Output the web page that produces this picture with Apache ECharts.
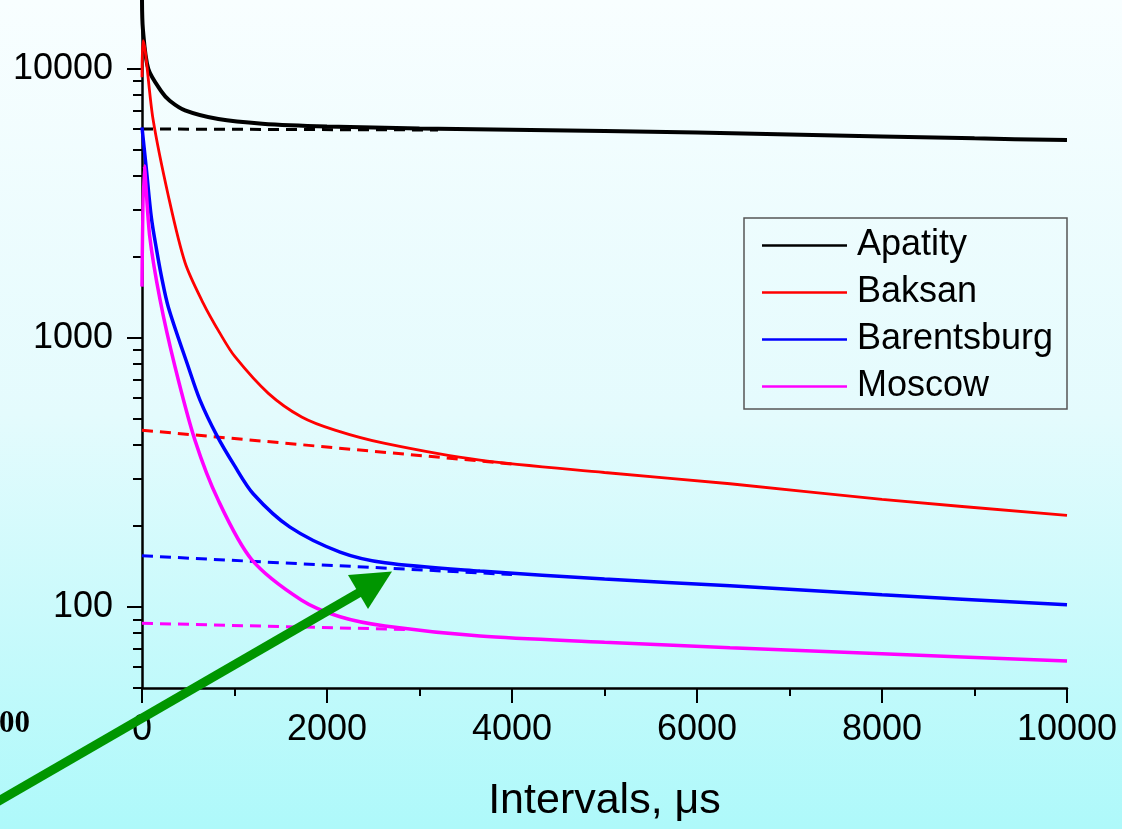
<!DOCTYPE html>
<html>
<head>
<meta charset="utf-8">
<title>Intervals</title>
<script src="https://cdn.jsdelivr.net/npm/echarts@6.0.0/dist/echarts.min.js"></script>
<style>
  html, body { margin: 0; padding: 0; }
  #chart { width: 1122px; height: 829px; }
</style>
</head>
<body>
<div id="chart"></div>
<script>
// values: [interval (us), count]
const apatity = [[0, 18000], [10, 14000], [68, 10000], [213, 8200], [300, 7600], [465, 7000], [825, 6500],
  [1300, 6250], [2000, 6100], [3000, 6000], [5000, 5870], [7000, 5700], [9000, 5510], [10000, 5430]]
const baksan = [[0, 9300], [12, 12700], [119, 6500], [285, 3367], [465, 1905], [660, 1350], [850, 1030],
  [1005, 851], [1366, 622], [1726, 508], [2086, 454], [2627, 405], [3654, 351], [5000, 316],
  [6357, 287], [8000, 251], [10000, 219]]
const barentsburg = [[0, 6050], [47, 4240], [101, 2800], [155, 2150], [209, 1700], [285, 1300], [500, 781],
  [627, 587], [807, 435], [1000, 335], [1204, 263], [1600, 198], [2141, 160], [2627, 146],
  [3654, 136], [5000, 127], [6357, 120], [8000, 111], [10000, 102]]
const moscow = [[0, 1550], [25, 4350], [83, 2390], [195, 1387], [357, 781], [573, 416], [825, 249],
  [1186, 150], [1726, 106], [2141, 92], [2627, 85], [3654, 78], [5000, 74], [6357, 70.5],
  [8000, 67], [10000, 63]]

// dashed fits of the tails
const apatityFit = [[0, 5970], [3200, 5920]]
const baksanFit = [[0, 454], [4000, 340]]
const barentsburgFit = [[0, 155], [4000, 132]]
const moscowFit = [[0, 87], [2850, 82.5]]

const seriesNames = ['Apatity', 'Baksan', 'Barentsburg', 'Moscow']
const majorTicks = [100, 1000, 10000]
const minorTicks = [50, 60, 70, 80, 90, 200, 300, 400, 500, 600, 700, 800, 900,
  2000, 3000, 4000, 5000, 6000, 7000, 8000, 9000]

const colors = ['#000000', '#ff0000', '#0000ff', '#ff00ff']
const curves = [apatity, baksan, barentsburg, moscow]
const fits = [apatityFit, baksanFit, barentsburgFit, moscowFit]
const widths = [4, 2.8, 3.5, 3.5]

const series = []
curves.forEach((data, i) => {
  series.push({
    name: seriesNames[i],
    type: 'line',
    data,
    showSymbol: false,
    symbol: 'none',
    smooth: 0.3,
    lineStyle: { color: colors[i], width: widths[i] },
    itemStyle: { color: colors[i] },
    z: 3
  })
})
fits.forEach((data, i) => {
  series.push({
    name: seriesNames[i] + ' fit',
    type: 'line',
    data,
    showSymbol: false,
    symbol: 'none',
    lineStyle: { color: colors[i], width: 3, type: [11, 7] },
    z: 2
  })
})

const labelFont = { fontFamily: 'Liberation Sans, Arial, sans-serif', fontSize: 36, color: '#000' }

const option = {
  animation: false,
  backgroundColor: new echarts.graphic.LinearGradient(0, 0, 0, 1, [
    { offset: 0, color: '#f8feff' },
    { offset: 0.5, color: '#e4fbfd' },
    { offset: 1, color: '#aef9fa' }
  ]),
  grid: { left: 142, right: 55, top: 0, bottom: 141 },
  legend: {
    data: seriesNames,
    orient: 'vertical',
    left: 762,
    top: 222,
    padding: 0,
    itemGap: 0,
    itemWidth: 85,
    itemHeight: 2.5,
    icon: 'rect',
    textStyle: { ...labelFont, lineHeight: 47, padding: [0, 0, 0, 5] }
  },
  xAxis: {
    type: 'value',
    min: 0,
    max: 10000,
    interval: 2000,
    name: 'Intervals, μs',
    nameLocation: 'middle',
    nameGap: 92,
    nameTextStyle: { fontFamily: 'Liberation Sans, Arial, sans-serif', fontSize: 43, color: '#000' },
    axisLine: { lineStyle: { color: '#000', width: 2.5 } },
    axisTick: { length: 15, lineStyle: { color: '#000', width: 2 } },
    minorTick: { show: true, splitNumber: 2, length: 8, lineStyle: { color: '#000', width: 2 } },
    axisLabel: { ...labelFont, margin: 24, formatter: (v) => String(v) },
    splitLine: { show: false }
  },
  yAxis: [
    {
      type: 'log',
      logBase: 10,
      min: 50,
      max: 18000,
      position: 'left',
      axisLine: { show: true, lineStyle: { color: '#000', width: 2.5 } },
      axisTick: { show: true, length: 15, customValues: majorTicks, lineStyle: { color: '#000', width: 2 } },
      axisLabel: { ...labelFont, margin: 29, customValues: majorTicks, formatter: (v) => String(v) },
      splitLine: { show: false }
    },
    {
      type: 'log',
      logBase: 10,
      min: 50,
      max: 18000,
      position: 'left',
      axisLine: { show: false },
      axisTick: { show: true, length: 9, customValues: minorTicks, lineStyle: { color: '#000', width: 2 } },
      axisLabel: { show: false },
      splitLine: { show: false }
    }
  ],
  graphic: [
    {
      type: 'rect',
      shape: { x: 744, y: 218, width: 323, height: 191 },
      style: { fill: null, stroke: '#555', lineWidth: 1.5 },
      z: 10
    },
    {
      type: 'text',
      x: 30,
      y: 724,
      style: { text: '00', font: 'bold 31px "Liberation Serif", serif', fill: '#000', align: 'right', verticalAlign: 'middle' }
    },
    // green annotation arrow
    {
      type: 'line',
      shape: { x1: -10, y1: 806, x2: 362, y2: 591 },
      style: { stroke: '#009600', lineWidth: 9 },
      z: 20
    },
    {
      type: 'polygon',
      shape: { points: [[348, 575], [392, 571.5], [368, 609]] },
      style: { fill: '#009600' },
      z: 20
    }
  ],
  series
}

const myChart = echarts.init(document.getElementById('chart'))
myChart.setOption(option)
</script>
</body>
</html>
